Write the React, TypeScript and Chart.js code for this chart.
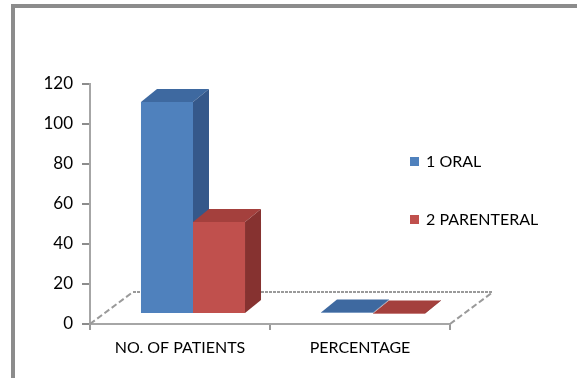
import { useEffect, useRef } from "react";
import { Chart, registerables } from "chart.js";

Chart.register(...registerables);

// Chart data
const categories = ["NO. OF PATIENTS", "PERCENTAGE"];
const seriesNames = ["1 ORAL", "2 PARENTERAL"];
const oralValues = [106, 0.7];
const parenteralValues = [46, 0.3];
const yTicks = [0, 20, 40, 60, 80, 100, 120];

// Canvas and plot geometry
const W = 577;
const H = 378;
const AREA = { left: 90, right: 450, top: 84, bottom: 324 };
const FLOOR_DEPTH = { dx: 43, dy: -32 };
const BAR_FRONT = { dx: 13, dy: -10 };
const BAR_DEPTH = { dx: 16, dy: -13 };
const FONT = "Lato, 'Open Sans', sans-serif";

const faces = [
  { front: "#4F81BD", top: "#3E69A0", side: "#35588A" },
  { front: "#C0504D", top: "#A4403D", side: "#863230" },
];

const prism3d = {
  id: "prism3d",
  beforeDraw(chart: any) {
    const ctx = chart.ctx;
    ctx.save();
    ctx.fillStyle = "#ffffff";
    ctx.fillRect(0, 0, W, H);
    // outer frame (left and top edges)
    ctx.fillStyle = "#8c8c8c";
    ctx.fillRect(11, 4, 4, H - 4);
    ctx.fillRect(11, 4, W - 11, 4);
    ctx.restore();
  },
  beforeDatasetsDraw(chart: any) {
    const { ctx, chartArea: a } = chart;
    ctx.save();
    // floor outline
    ctx.strokeStyle = "#9a9a9a";
    ctx.lineWidth = 2;
    ctx.setLineDash([3, 1]);
    ctx.beginPath();
    ctx.moveTo(a.left + FLOOR_DEPTH.dx, a.bottom + FLOOR_DEPTH.dy);
    ctx.lineTo(a.right + FLOOR_DEPTH.dx, a.bottom + FLOOR_DEPTH.dy);
    ctx.stroke();
    ctx.setLineDash([6, 3]);
    ctx.beginPath();
    ctx.moveTo(a.left, a.bottom);
    ctx.lineTo(a.left + FLOOR_DEPTH.dx, a.bottom + FLOOR_DEPTH.dy);
    ctx.moveTo(a.right, a.bottom);
    ctx.lineTo(a.right + FLOOR_DEPTH.dx, a.bottom + FLOOR_DEPTH.dy);
    ctx.stroke();
    ctx.setLineDash([]);

    // bars as prisms, left to right so nearer faces overlap
    const metas = chart.data.datasets.map((_: any, i: number) => chart.getDatasetMeta(i));
    const n = chart.data.labels.length;
    for (let c = 0; c < n; c++) {
      for (let d = 0; d < metas.length; d++) {
        const el = metas[d].data[c];
        const { x, y, base, width } = el.getProps(["x", "y", "base", "width"], true);
        const f = faces[d % faces.length];
        const l = x - width / 2 + BAR_FRONT.dx;
        const r = x + width / 2 + BAR_FRONT.dx;
        const t = y + BAR_FRONT.dy;
        const b = base + BAR_FRONT.dy;
        ctx.fillStyle = f.front;
        ctx.fillRect(l, t, r - l, b - t);
        ctx.fillStyle = f.top;
        ctx.beginPath();
        ctx.moveTo(l, t);
        ctx.lineTo(r, t);
        ctx.lineTo(r + BAR_DEPTH.dx, t + BAR_DEPTH.dy);
        ctx.lineTo(l + BAR_DEPTH.dx, t + BAR_DEPTH.dy);
        ctx.closePath();
        ctx.fill();
        ctx.fillStyle = f.side;
        ctx.beginPath();
        ctx.moveTo(r, t);
        ctx.lineTo(r + BAR_DEPTH.dx, t + BAR_DEPTH.dy);
        ctx.lineTo(r + BAR_DEPTH.dx, b + BAR_DEPTH.dy);
        ctx.lineTo(r, b);
        ctx.closePath();
        ctx.fill();
      }
    }
    ctx.restore();
    return false;
  },
  afterDraw(chart: any) {
    const ctx = chart.ctx;
    ctx.save();
    ctx.font = `16px ${FONT}`;
    ctx.textBaseline = "middle";
    ctx.textAlign = "left";
    chart.data.datasets.forEach((ds: any, i: number) => {
      const cy = 161.5 + i * 58;
      ctx.fillStyle = faces[i % faces.length].front;
      ctx.fillRect(410, cy - 4.5, 9, 9);
      ctx.fillStyle = "#000000";
      ctx.fillText(ds.label, 426, cy);
    });
    ctx.restore();
  },
};

export default function App() {
  const ref = useRef<HTMLCanvasElement | null>(null);

  useEffect(() => {
    if (!ref.current) return;
    const chart = new Chart(ref.current, {
      type: "bar",
      data: {
        labels: categories,
        datasets: [
          {
            label: seriesNames[0],
            data: oralValues,
            backgroundColor: faces[0].front,
            categoryPercentage: 0.578,
            barPercentage: 1,
          },
          {
            label: seriesNames[1],
            data: parenteralValues,
            backgroundColor: faces[1].front,
            categoryPercentage: 0.578,
            barPercentage: 1,
          },
        ],
      },
      options: {
        responsive: false,
        animation: false,
        layout: { padding: { top: AREA.top, right: W - AREA.right, left: 0, bottom: 0 } },
        plugins: {
          legend: { display: false },
          tooltip: { enabled: false },
        },
        scales: {
          x: {
            grid: {
              drawOnChartArea: false,
              drawTicks: true,
              tickLength: 6,
              color: "#999999",
              lineWidth: 2,
              offset: true,
            },
            border: { display: true, color: "#a6a6a6", width: 2 },
            ticks: {
              font: { family: FONT, size: 16 },
              color: "#000000",
              padding: 8,
              maxRotation: 0,
              autoSkip: false,
            },
            afterFit(s: any) {
              s.height = H - AREA.bottom;
            },
          },
          y: {
            min: 0,
            max: 120,
            afterBuildTicks(s: any) {
              s.ticks = yTicks.map((v) => ({ value: v }));
            },
            ticks: {
              font: { family: FONT, size: 17 },
              color: "#000000",
              padding: 9,
            },
            grid: {
              drawOnChartArea: false,
              tickLength: 8,
              color: "#8c8c8c",
              lineWidth: 2,
            },
            border: { color: "#a6a6a6", width: 2 },
            afterFit(s: any) {
              s.width = AREA.left;
            },
          },
        },
      },
      plugins: [prism3d],
    });
    return () => chart.destroy();
  }, []);

  return (
    <div style={{ position: "absolute", left: 0, top: 0, width: W, height: H, background: "#fff" }}>
      <canvas ref={ref} width={W} height={H} style={{ display: "block" }} />
    </div>
  );
}
